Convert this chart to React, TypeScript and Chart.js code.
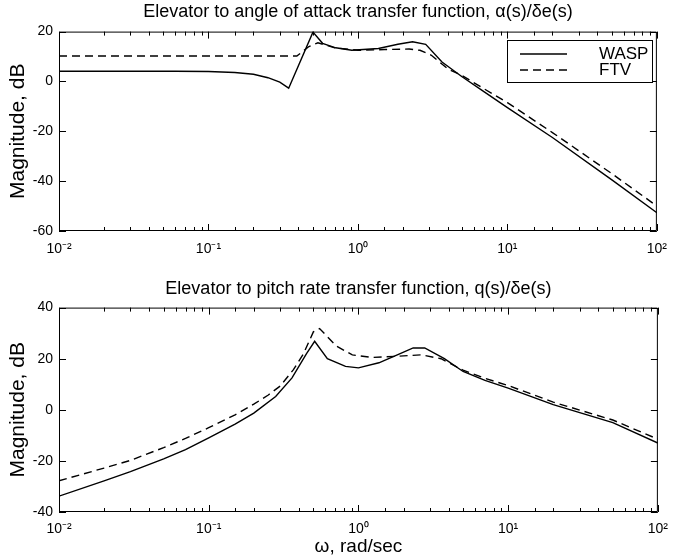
import React, { useEffect, useRef } from 'react';
import { Chart, registerables } from 'chart.js';

Chart.register(...registerables);

const FONT = "'Liberation Sans', Arial, Helvetica, sans-serif";

// ---------- text ----------
const seriesNames = ['WASP', 'FTV'];
const plotTitles = [
  'Elevator to angle of attack transfer function, α(s)/δe(s)',
  'Elevator to pitch rate transfer function, q(s)/δe(s)',
];
const yAxisTitle = 'Magnitude, dB';
const xAxisTitle = 'ω, rad/sec';
const xTickExponents = [-2, -1, 0, 1, 2];
const xTickLabels = ['10⁻²', '10⁻¹', '10⁰', '10¹', '10²'];
const alphaYTicks = [-60, -40, -20, 0, 20];
const qYTicks = [-40, -20, 0, 20, 40];

// ---------- data: alpha(s)/de(s) ----------
const alphaWaspFreq = [0.01, 0.03, 0.06, 0.1, 0.15, 0.2, 0.25, 0.3, 0.344, 0.5, 0.58, 0.71, 0.91, 1.37, 1.85, 2.32, 2.84, 3.65, 5, 7, 10, 20, 50, 100];
const alphaWaspMag = [4.1, 4.1, 4.1, 4.0, 3.6, 2.9, 1.5, -0.3, -2.7, 19.8, 15.3, 13.5, 12.5, 13.2, 14.9, 15.9, 14.9, 7.8, 1.8, -4.2, -10.5, -22.5, -39.5, -52.7];
const alphaFtvFreq = [0.01, 0.1, 0.39, 0.47, 0.54, 0.7, 1.0, 1.5, 2.2, 2.6, 3.1, 4, 5, 7, 10, 20, 50, 100];
const alphaFtvMag = [10.2, 10.2, 10.2, 14, 15.5, 13.5, 12.5, 12.8, 13, 12.5, 10.5, 5, 2.3, -3, -8.5, -20.5, -37, -50];

// ---------- data: q(s)/de(s) ----------
const qWaspFreq = [0.01, 0.02, 0.03, 0.05, 0.07, 0.1, 0.15, 0.2, 0.28, 0.36, 0.45, 0.51, 0.62, 0.82, 1.0, 1.37, 1.85, 2.32, 2.77, 3.75, 5, 7, 10, 20, 50, 100];
const qWaspMag = [-33.8, -27.8, -24.2, -19.2, -15.6, -11.0, -5.6, -1.3, 5.2, 12.5, 22, 26.8, 20, 17, 16.4, 18.4, 21.7, 24.2, 24.2, 20, 15, 11.5, 8.5, 2, -5, -13];
const qFtvFreq = [0.01, 0.02, 0.03, 0.05, 0.07, 0.1, 0.15, 0.2, 0.25, 0.3, 0.368, 0.43, 0.5, 0.55, 0.71, 0.91, 1.23, 1.85, 2.63, 3.56, 5, 7, 10, 20, 50, 100];
const qFtvMag = [-27.8, -22.8, -19.8, -14.8, -11.2, -7, -2, 2.2, 5.8, 9.3, 15.7, 22, 30.5, 31.8, 25, 21.5, 20.5, 21, 21.5, 20, 15.5, 12.3, 9.5, 3, -4, -11.5];

const toPoints = (f: number[], m: number[]) => f.map((x, i) => ({ x, y: m[i] }));

// frame with inward ticks (MATLAB style)
const framePlugin = {
  id: 'frame',
  afterDraw(chart: any) {
    const { ctx, chartArea, scales } = chart;
    const { left, right, top, bottom } = chartArea;
    const xs = scales.x;
    const ys = scales.y;
    ctx.save();
    ctx.strokeStyle = '#000';
    ctx.lineWidth = 1;
    ctx.beginPath();
    ctx.rect(left + 0.5, top + 0.5, right - left - 1, bottom - top - 1);
    for (const t of xs.ticks) {
      const px = Math.round(xs.getPixelForValue(t.value)) + 0.5;
      const lg = Math.log10(t.value);
      const major = Math.abs(lg - Math.round(lg)) < 1e-6;
      const len = major ? 7 : 4;
      ctx.moveTo(px, bottom); ctx.lineTo(px, bottom - len);
      ctx.moveTo(px, top); ctx.lineTo(px, top + len);
    }
    for (const t of ys.ticks) {
      const py = Math.round(ys.getPixelForValue(t.value)) + 0.5;
      ctx.moveTo(left, py); ctx.lineTo(left + 7, py);
      ctx.moveTo(right, py); ctx.lineTo(right - 7, py);
    }
    ctx.stroke();
    ctx.restore();
  },
};

// boxed legend
const boxLegendPlugin = {
  id: 'boxLegend',
  afterDraw(chart: any, _args: any, opts: any) {
    if (!opts || !opts.show) return;
    const { ctx } = chart;
    ctx.save();
    ctx.fillStyle = '#fff';
    ctx.fillRect(opts.left, opts.top, opts.width, opts.height);
    ctx.strokeStyle = '#000';
    ctx.lineWidth = 1;
    ctx.strokeRect(opts.left + 0.5, opts.top + 0.5, opts.width, opts.height);
    chart.data.datasets.forEach((ds: any, i: number) => {
      const y = opts.top + opts.rowStart + i * opts.rowGap;
      ctx.beginPath();
      ctx.setLineDash(ds.borderDash || []);
      ctx.lineWidth = ds.borderWidth;
      ctx.moveTo(opts.left + opts.lineStart, y);
      ctx.lineTo(opts.left + opts.lineEnd, y);
      ctx.stroke();
      ctx.setLineDash([]);
      ctx.fillStyle = '#000';
      ctx.font = `17px ${FONT}`;
      ctx.textAlign = 'left';
      ctx.textBaseline = 'middle';
      ctx.fillText(ds.label, opts.left + opts.textStart, y);
    });
    ctx.restore();
  },
};

function makeConfig(
  title: string,
  titlePad: { top: number; bottom: number },
  wasp: { x: number; y: number }[],
  ftv: { x: number; y: number }[],
  yTicks: number[],
  xHeight: number,
  xTickPad: number,
  showXTitle: boolean,
  legend: any
) {
  return {
    type: 'line' as const,
    data: {
      datasets: [
        { label: seriesNames[0], data: wasp, borderColor: '#000', borderWidth: 1.4, pointRadius: 0, tension: 0, fill: false },
        { label: seriesNames[1], data: ftv, borderColor: '#000', borderWidth: 1.4, borderDash: [8, 5], pointRadius: 0, tension: 0, fill: false },
      ],
    },
    options: {
      animation: false,
      responsive: false,
      layout: { padding: { left: 0, right: 10, top: 0, bottom: 0 } },
      plugins: {
        legend: { display: false },
        tooltip: { enabled: false },
        title: {
          display: true,
          fullSize: false,
          text: title,
          color: '#000',
          font: { family: FONT, size: 18, weight: 'normal', lineHeight: 1.2 },
          padding: titlePad,
        },
        boxLegend: legend,
      },
      scales: {
        x: {
          type: 'logarithmic',
          min: 0.01,
          max: 100,
          afterFit: (s: any) => { s.height = xHeight; },
          grid: { display: false, drawTicks: false },
          border: { display: false },
          ticks: {
            autoSkip: false,
            maxRotation: 0,
            color: '#000',
            padding: xTickPad,
            font: { family: FONT, size: 14 },
            callback: (v: any) => {
              const e = Math.log10(Number(v));
              const i = xTickExponents.findIndex((k) => Math.abs(k - e) < 1e-6);
              return i >= 0 ? xTickLabels[i] : '';
            },
          },
          title: {
            display: showXTitle,
            text: xAxisTitle,
            color: '#000',
            font: { family: FONT, size: 19, lineHeight: 1.2 },
            padding: { top: 0, bottom: 2 },
          },
        },
        y: {
          type: 'linear',
          min: yTicks[0],
          max: yTicks[yTicks.length - 1],
          afterFit: (s: any) => { s.width = 59; },
          afterBuildTicks: (s: any) => { s.ticks = yTicks.map((v) => ({ value: v })); },
          grid: { display: false, drawTicks: false },
          border: { display: false },
          ticks: {
            color: '#000',
            padding: 6,
            font: { family: FONT, size: 14 },
            callback: (v: any) => String(v),
          },
          title: {
            display: true,
            text: yAxisTitle,
            color: '#000',
            font: { family: FONT, size: 21, lineHeight: 1.2 },
            padding: { top: 6, bottom: 0 },
          },
        },
      },
    },
    plugins: [framePlugin, boxLegendPlugin],
  };
}

export default function App() {
  const c1 = useRef<HTMLCanvasElement>(null);
  const c2 = useRef<HTMLCanvasElement>(null);

  useEffect(() => {
    const ch1 = new Chart(
      c1.current as HTMLCanvasElement,
      makeConfig(
        plotTitles[0],
        { top: 1, bottom: 9 },
        toPoints(alphaWaspFreq, alphaWaspMag),
        toPoints(alphaFtvFreq, alphaFtvMag),
        alphaYTicks,
        39,
        10,
        false,
        { show: true, left: 507, top: 40, width: 145, height: 42, rowStart: 14, rowGap: 16, lineStart: 13, lineEnd: 60, textStart: 92 }
      ) as any
    );
    const ch2 = new Chart(
      c2.current as HTMLCanvasElement,
      makeConfig(
        plotTitles[1],
        { top: 8, bottom: 8 },
        toPoints(qWaspFreq, qWaspMag),
        toPoints(qFtvFreq, qFtvMag),
        qYTicks,
        48,
        9,
        true,
        { show: false }
      ) as any
    );
    return () => {
      ch1.destroy();
      ch2.destroy();
    };
  }, []);

  return (
    <div style={{ position: 'fixed', left: 0, top: 0, width: 677, height: 560, background: '#fff' }}>
      <canvas ref={c1} width={677} height={270} style={{ display: 'block' }} />
      <canvas ref={c2} width={677} height={290} style={{ display: 'block' }} />
    </div>
  );
}
